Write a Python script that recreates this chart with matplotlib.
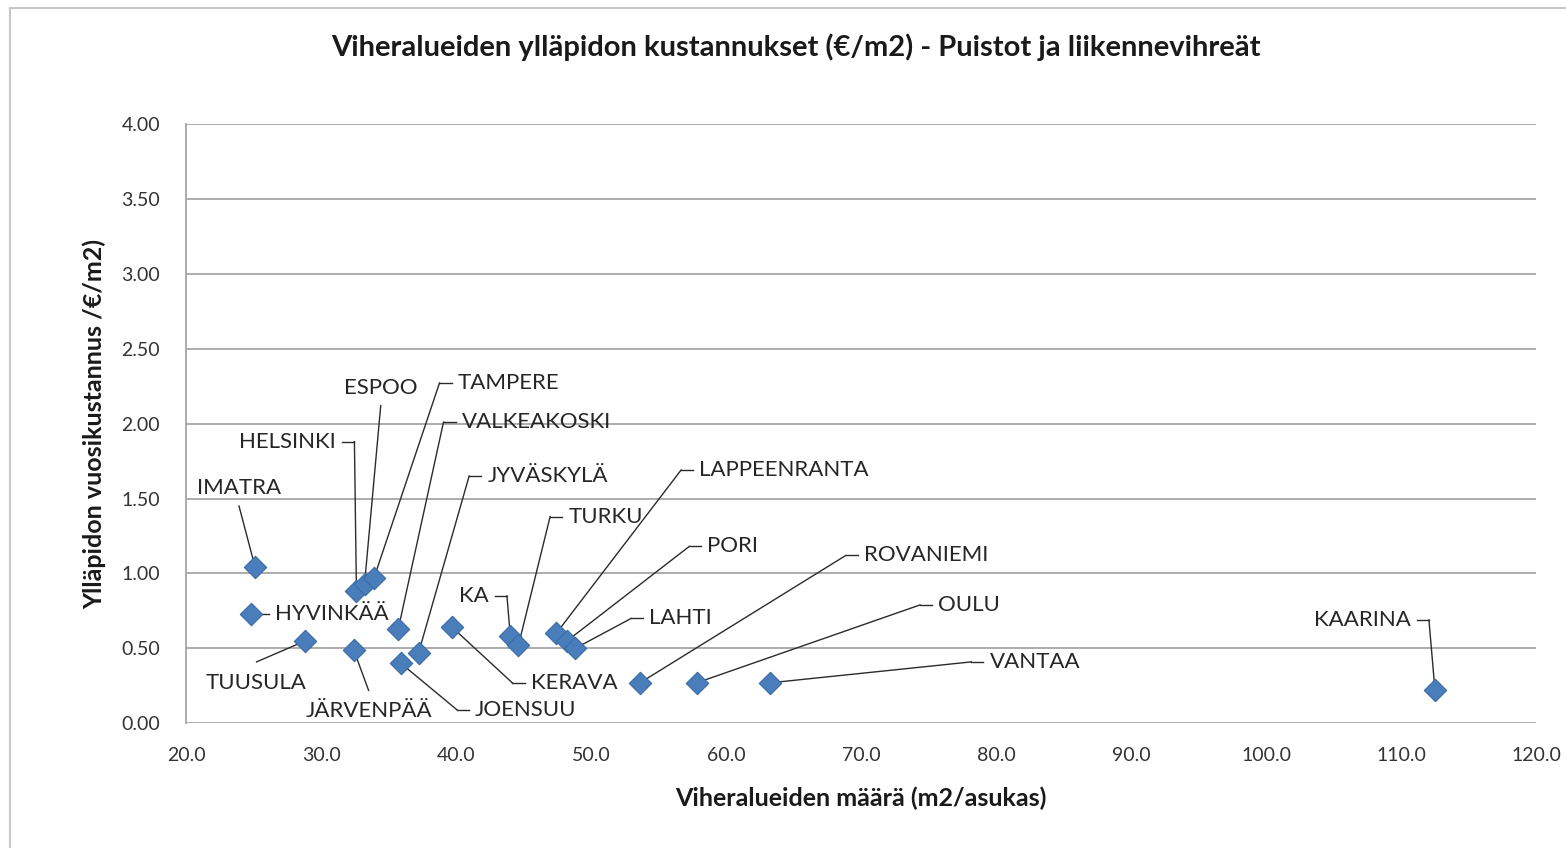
import numpy as np
import matplotlib.pyplot as plt
from matplotlib.lines import Line2D

plt.rcParams['font.family'] = ['Lato', 'DejaVu Sans']

cities = ['IMATRA', 'HYVINKÄÄ', 'TUUSULA', 'HELSINKI', 'ESPOO', 'TAMPERE', 'VALKEAKOSKI',
          'JYVÄSKYLÄ', 'JÄRVENPÄÄ', 'JOENSUU', 'KERAVA', 'KA', 'TURKU', 'LAPPEENRANTA',
          'PORI', 'LAHTI', 'ROVANIEMI', 'OULU', 'VANTAA', 'KAARINA']
area = [25.1, 24.8, 28.8, 32.6, 33.2, 33.9, 35.7, 37.2, 32.4, 35.9, 39.7, 44.0, 44.6, 47.4,
        48.2, 48.8, 53.6, 57.8, 63.2, 112.5]
cost = [1.04, 0.73, 0.55, 0.88, 0.93, 0.97, 0.63, 0.47, 0.49, 0.40, 0.64, 0.58, 0.52, 0.60,
        0.55, 0.50, 0.27, 0.27, 0.27, 0.22]

x_ticks = np.arange(20, 121, 10)
y_ticks = np.arange(0, 4.01, 0.5)

# label placement: (text x, text y, alignment)
label_pos = {
    'IMATRA': (23.9, 1.57, 'center'),
    'HYVINKÄÄ': (26.6, 0.73, 'left'),
    'TUUSULA': (25.2, 0.27, 'center'),
    'HELSINKI': (31.1, 1.88, 'right'),
    'ESPOO': (34.4, 2.24, 'center'),
    'TAMPERE': (40.1, 2.27, 'left'),
    'VALKEAKOSKI': (40.4, 2.01, 'left'),
    'JYVÄSKYLÄ': (42.3, 1.65, 'left'),
    'JÄRVENPÄÄ': (33.5, 0.08, 'center'),
    'JOENSUU': (41.4, 0.09, 'left'),
    'KERAVA': (45.5, 0.27, 'left'),
    'KA': (42.4, 0.85, 'right'),
    'TURKU': (48.3, 1.38, 'left'),
    'LAPPEENRANTA': (58.0, 1.69, 'left'),
    'PORI': (58.6, 1.18, 'left'),
    'LAHTI': (54.3, 0.70, 'left'),
    'ROVANIEMI': (70.2, 1.12, 'left'),
    'OULU': (75.7, 0.79, 'left'),
    'VANTAA': (79.5, 0.41, 'left'),
    'KAARINA': (110.7, 0.69, 'right'),
}

fig = plt.figure(figsize=(15.66, 8.48), dpi=100)
ax = fig.add_axes([0.119, 0.147, 0.862, 0.707])

ax.set_xlim(20, 120)
ax.set_ylim(0, 4)
ax.set_xticks(x_ticks)
ax.set_yticks(y_ticks)
ax.set_xticklabels([f'{v:.1f}' for v in x_ticks])
ax.set_yticklabels([f'{v:.2f}' for v in y_ticks])
ax.tick_params(length=0, labelsize=14, colors='#333333')
ax.tick_params(axis='y', pad=19)
ax.tick_params(axis='x', pad=17)
ax.yaxis.grid(True, color='#a6a6a6', lw=1.3)
ax.set_axisbelow(True)
for s in ['top', 'right', 'bottom']:
    ax.spines[s].set_visible(False)
ax.spines['left'].set_color('#a6a6a6')
ax.spines['left'].set_linewidth(1.3)

line_kw = dict(color='#2b2b2b', lw=1.0, zorder=2)
gap, stub = 0.45, 0.9
for name, x, y in zip(cities, area, cost):
    tx, ty, ha = label_pos[name]
    ax.text(tx, ty, name, ha=ha, va='center', fontsize=16, color='#262626', zorder=4)
    if ha == 'left':
        sx = tx - gap
        ax.plot([sx - stub, sx], [ty, ty], **line_kw)
        ax.plot([x, sx - stub], [y, ty], **line_kw)
    elif ha == 'right':
        sx = tx + gap
        ax.plot([sx, sx + stub], [ty, ty], **line_kw)
        ax.plot([sx + stub, x], [ty, y], **line_kw)
    else:
        ay = ty - 0.12 if y < ty else ty + 0.14
        ax.plot([tx, x], [ay, y], **line_kw)

ax.scatter(area, cost, marker='D', s=130, color='#4a7ebb', edgecolor='#3a6aa8',
           linewidth=0.8, zorder=3)

fig.text(0.508, 0.944, 'Viheralueiden ylläpidon kustannukset (€/m2) - Puistot ja liikennevihreät',
         ha='center', va='center', fontsize=21, fontweight='bold', color='#1a1a1a')
ax.set_xlabel('Viheralueiden määrä (m2/asukas)', fontsize=18, fontweight='bold',
              color='#1a1a1a', labelpad=16)
ax.set_ylabel('Ylläpidon vuosikustannus /€/m2)', fontsize=18, fontweight='bold',
              color='#1a1a1a', labelpad=11)

# outer chart frame
fig.add_artist(Line2D([0.0064, 0.0064], [0.0, 0.9906], color='#c8c8c8', lw=1.5))
fig.add_artist(Line2D([0.0064, 1.0], [0.9906, 0.9906], color='#c8c8c8', lw=1.5))

fig.savefig('out.png', dpi=100)
